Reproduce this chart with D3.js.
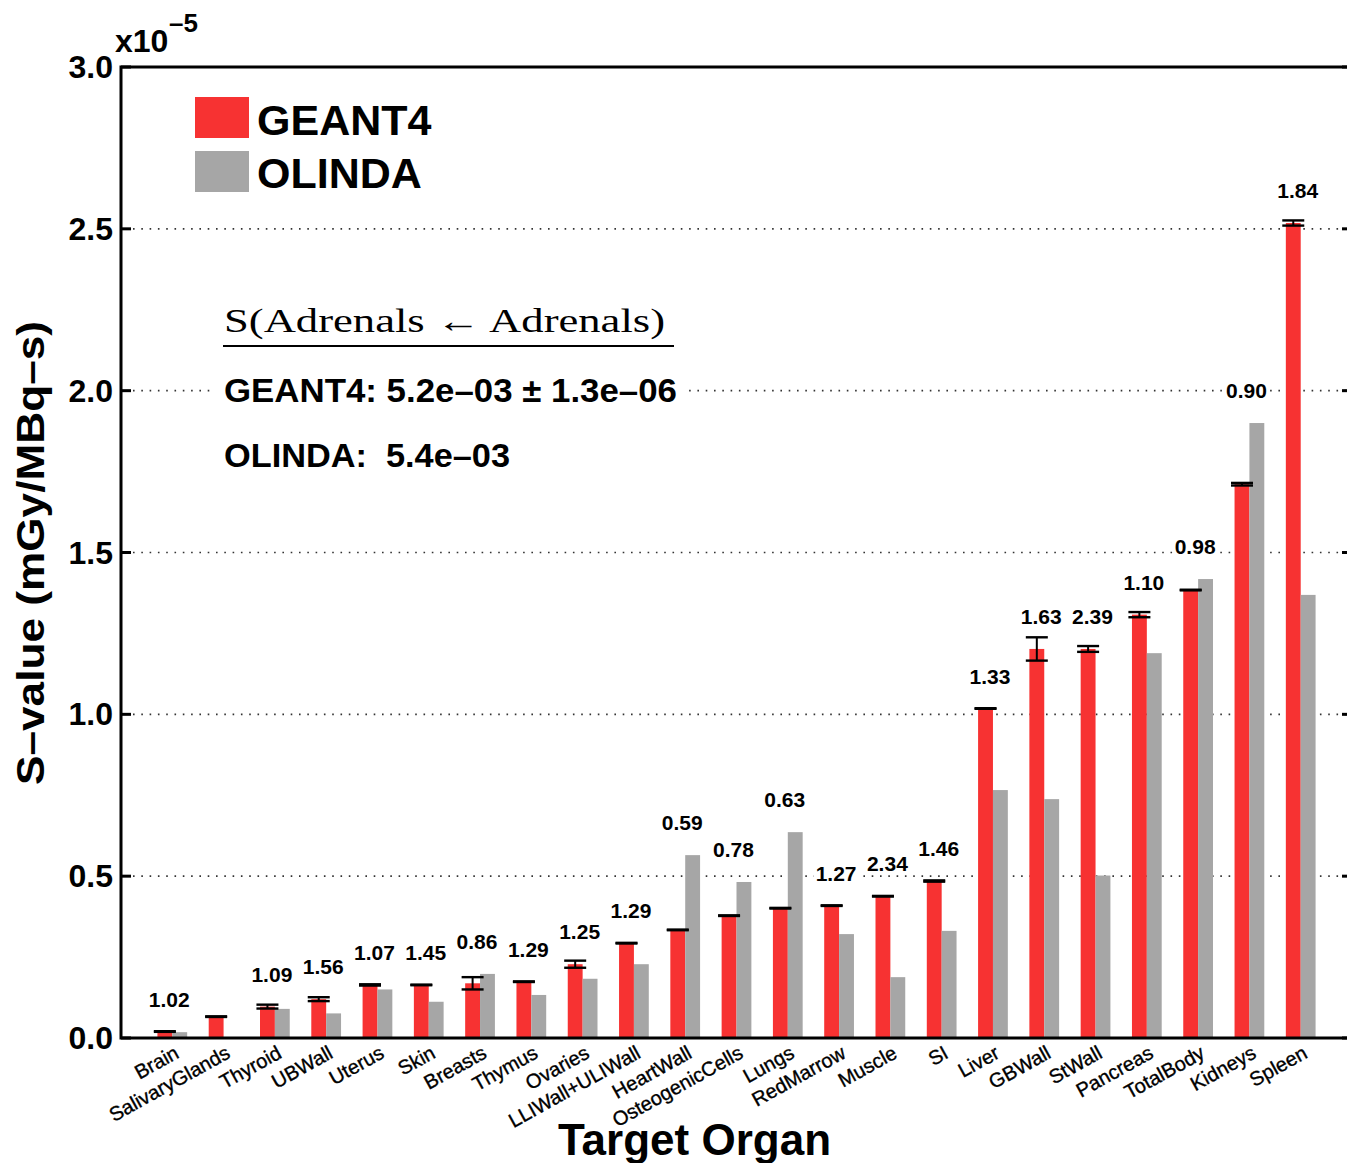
<!DOCTYPE html>
<html>
<head>
<meta charset="utf-8">
<script src="https://cdn.jsdelivr.net/npm/d3@7"></script>
<style>
  html, body { margin: 0; padding: 0; background: #fff; }
  svg { display: block; font-family: "Liberation Sans", Arial, Helvetica, sans-serif; }
  text { white-space: pre; }
</style>
</head>
<body>
<svg id="chart" width="1347" height="1163"></svg>
<script>
// ---------------- data (S-values in units of 1e-5 mGy/MBq-s) ----------------
const categories = ["Brain","SalivaryGlands","Thyroid","UBWall","Uterus","Skin","Breasts","Thymus",
  "Ovaries","LLIWall+ULIWall","HeartWall","OsteogenicCells","Lungs","RedMarrow","Muscle","SI",
  "Liver","GBWall","StWall","Pancreas","TotalBody","Kidneys","Spleen"];
const geant4 = [0.020,0.066,0.097,0.120,0.164,0.164,0.169,0.174,0.228,0.293,0.334,0.378,0.401,
  0.409,0.438,0.485,1.018,1.202,1.202,1.308,1.384,1.711,2.518];
const geant4Err = [0.001,0.001,0.006,0.006,0.002,0.001,0.019,0.001,0.011,0.001,0.001,0.001,0.001,
  0.001,0.001,0.002,0.001,0.036,0.009,0.008,0.001,0.004,0.008];
const olinda = [0.018,0.000,0.090,0.076,0.150,0.112,0.198,0.133,0.183,0.228,0.565,0.482,0.636,
  0.321,0.188,0.331,0.766,0.738,0.502,1.189,1.418,1.900,1.369];
const ratioLabels = ["1.02","","1.09","1.56","1.07","1.45","0.86","1.29","1.25","1.29","0.59","0.78",
  "0.63","1.27","2.34","1.46","1.33","1.63","2.39","1.10","0.98","0.90","1.84"];
const yTicks = [0.0,0.5,1.0,1.5,2.0,2.5,3.0];
const gridValues = [0.5,1.0,1.5,2.0,2.5];
const seriesNames = ["GEANT4","OLINDA"];
const annotationTitle = "S(Adrenals \u2190 Adrenals)";
const annotationLines = ["GEANT4: 5.2e\u201303 \u00b1 1.3e\u201306", "OLINDA:  5.4e\u201303"];
const yTitle = "S\u2013value (mGy/MBq\u2013s)";
const xTitle = "Target Organ";

// ---------------- layout ----------------
const RED = "#f73232", GREY = "#a6a6a6";
const L = 121, R = 1352, T = 67, B = 1038;
const svg = d3.select("#chart");

const x = d3.scalePoint().domain(categories).range([L, R]).padding(1);
const y = d3.scaleLinear().domain([0, 3]).range([B, T]);
const step = x.step();
const bw = step * 0.29;

// gridlines
svg.append("g").selectAll("line").data(gridValues).join("line")
  .attr("x1", L + 12).attr("x2", 1347)
  .attr("y1", d => y(d)).attr("y2", d => y(d))
  .attr("stroke", "#333").attr("stroke-width", 1.6)
  .attr("stroke-dasharray", "1.6 6.7");

// bars
const idx = d3.range(categories.length);
svg.append("g").selectAll("rect").data(idx).join("rect")
  .attr("x", i => x(categories[i]) - bw).attr("width", bw)
  .attr("y", i => y(geant4[i])).attr("height", i => y(0) - y(geant4[i]))
  .attr("fill", RED);
svg.append("g").selectAll("rect").data(idx).join("rect")
  .attr("x", i => x(categories[i])).attr("width", bw)
  .attr("y", i => y(olinda[i])).attr("height", i => y(0) - y(olinda[i]))
  .attr("fill", GREY);

// error bars
const eg = svg.append("g").attr("stroke", "#000");
idx.forEach(i => {
  const cx = x(categories[i]) - bw / 2;
  const lo = y(geant4[i] - geant4Err[i]), hi = y(geant4[i] + geant4Err[i]);
  eg.append("line").attr("x1", cx).attr("x2", cx).attr("y1", lo).attr("y2", hi).attr("stroke-width", 2);
  [lo, hi].forEach(yy => eg.append("line").attr("x1", cx - 11).attr("x2", cx + 11)
    .attr("y1", yy).attr("y2", yy).attr("stroke-width", 2.4));
});

// ratio labels with white background
const lg = svg.append("g");
idx.forEach(i => {
  if (!ratioLabels[i]) return;
  const top = Math.max(geant4[i], olinda[i]) + 0.1;
  const g = lg.append("g");
  const t = g.append("text").attr("x", x(categories[i]) - 3).attr("y", y(top) + 7.5)
    .attr("text-anchor", "middle").attr("font-size", 21).attr("font-weight", "bold")
    .text(ratioLabels[i]);
  const bb = t.node().getBBox();
  g.insert("rect", "text").attr("x", bb.x - 2).attr("y", bb.y + 2).attr("width", bb.width + 4)
    .attr("height", bb.height - 4).attr("fill", "#fff");
});

// frame
svg.append("rect").attr("x", L).attr("y", T).attr("width", R - L).attr("height", B - T)
  .attr("fill", "none").attr("stroke", "#000").attr("stroke-width", 3);

// y ticks (inward, both sides)
const yt = svg.append("g");
yTicks.forEach(t => {
  yt.append("line").attr("x1", L).attr("x2", L + 10).attr("y1", y(t)).attr("y2", y(t))
    .attr("stroke", "#000").attr("stroke-width", 3);
  yt.append("line").attr("x1", R - 10).attr("x2", R).attr("y1", y(t)).attr("y2", y(t))
    .attr("stroke", "#000").attr("stroke-width", 3);
  yt.append("text").attr("x", 113).attr("y", y(t) + 11).attr("text-anchor", "end")
    .attr("font-size", 32).attr("font-weight", "bold").text(d3.format(".1f")(t));
});
// exponent
svg.append("text").attr("x", 115).attr("y", 52).attr("font-size", 32).attr("font-weight", "bold").text("x10");
svg.append("text").attr("x", 169).attr("y", 32).attr("font-size", 26).attr("font-weight", "bold").text("\u20135");

// category labels
svg.append("g").selectAll("text").data(categories).join("text")
  .attr("transform", d => `translate(${x(d) + 8},1057) rotate(-29)`)
  .attr("text-anchor", "end").attr("font-size", 20)
  .attr("stroke", "#000").attr("stroke-width", 0.35)
  .text(d => d);

// axis titles
svg.append("text").attr("transform", "translate(44,553) rotate(-90)")
  .attr("text-anchor", "middle").attr("font-size", 38).attr("font-weight", "bold")
  .attr("textLength", 464).attr("lengthAdjust", "spacingAndGlyphs")
  .text(yTitle);
svg.append("text").attr("x", 558).attr("y", 1155).attr("font-size", 44).attr("font-weight", "bold")
  .text(xTitle);

// legend
const colors = [RED, GREY];
seriesNames.forEach((s, i) => {
  svg.append("rect").attr("x", 195).attr("y", 97 + i * 54).attr("width", 54).attr("height", 41)
    .attr("fill", colors[i]);
  svg.append("text").attr("x", 257).attr("y", 135 + i * 53).attr("font-size", 43)
    .attr("font-weight", "bold").text(s);
});

// annotation block
const ag = svg.append("g");
ag.append("rect").attr("x", 214).attr("y", 372).attr("width", 472).attr("height", 38).attr("fill", "#fff");
ag.append("text").attr("x", 224).attr("y", 332).attr("font-family", "'Liberation Serif', 'DejaVu Serif', serif")
  .attr("font-size", 33).attr("textLength", 441).attr("lengthAdjust", "spacingAndGlyphs")
  .text(annotationTitle);
ag.append("line").attr("x1", 223).attr("x2", 674).attr("y1", 346).attr("y2", 346)
  .attr("stroke", "#000").attr("stroke-width", 2);
ag.append("text").attr("x", 224).attr("y", 402).attr("font-size", 33).attr("font-weight", "bold")
  .attr("textLength", 453).attr("lengthAdjust", "spacingAndGlyphs")
  .text(annotationLines[0]);
ag.append("text").attr("x", 224).attr("y", 467).attr("font-size", 33).attr("font-weight", "bold")
  .attr("textLength", 286).attr("lengthAdjust", "spacingAndGlyphs")
  .text(annotationLines[1]);
</script>
</body>
</html>
